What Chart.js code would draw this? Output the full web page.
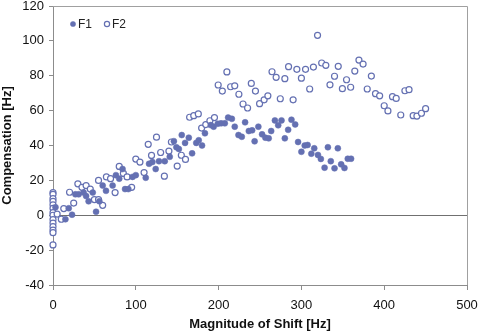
<!DOCTYPE html>
<html>
<head>
<meta charset="utf-8">
<script src="https://cdn.jsdelivr.net/npm/chart.js@4.4.1/dist/chart.umd.min.js"></script>
<style>
    html, body { margin: 0; padding: 0; background: #ffffff; }
    #chart { display: block; }
</style>
</head>
<body>
<canvas id="chart" width="480" height="334"></canvas>
<script>
const f1Shift = [3, 15, 19, 23, 27, 31, 37, 40, 43, 48, 52, 56, 60, 64, 72, 76, 80, 84, 87, 91,
    96, 100, 112, 116, 120, 124, 128, 135, 141, 146, 149, 152, 155.5, 159.5, 164, 168, 173, 176, 180, 183.5,
    190.5, 194, 199, 203, 207.5, 211.5, 216, 219.5, 224, 228, 232, 236.5, 240.5, 243.5, 248, 252.5, 256.5, 260.5, 263.5, 268,
    272, 276, 280, 284, 288, 292.5, 296, 300, 304, 307.5, 312, 315.5, 320, 323.5, 328, 332, 335.5, 340, 344, 348,
    352, 356, 360];
const f1Comp = [4.6, -2.3, 4, 0.3, 12, 12, 13, 11, 8, 13, 2, 8, 17, 14, 17, 23, 21, 26.5, 15, 15,
    22, 23, 21.5, 29.5, 30.5, 26.5, 31, 31, 33.5, 42.5, 39, 38, 46, 41.5, 44.5, 35.5, 41.5, 43, 40, 47,
    51.7, 50.8, 52.5, 52.7, 52.7, 56, 55.3, 50.8, 46, 45, 53.3, 48.3, 48.7, 42.4, 50.8, 46.4, 44.5, 44.1, 48.3, 54.4,
    51.6, 54.4, 44.1, 49, 54.8, 52.1, 42, 36.4, 40, 40.3, 35.3, 38.4, 34.6, 32.3, 27.3, 39, 31, 26.9, 38.4, 29.2,
    27.1, 32.4, 32.4];

const f2Shift = [0, 0, 0, 0, 0, 0, 0, 0, 0, 0, 0, 0, 0, 0,
    5, 10, 13, 20, 25, 30, 35, 40, 45, 50, 55, 60, 55, 64.5, 69.5, 75, 80, 85, 89.5, 95,
    100, 105, 110, 115, 119, 125, 130, 134.5, 140, 143, 150, 155, 160, 165, 170, 175.5, 179.5, 184.5, 189.5, 195,
    199.5, 204.5, 210, 214.5, 219.5, 224.5, 229.5, 235, 239.5, 244.5, 249.5, 255, 259.5, 264.5, 269.5, 274.5, 280, 284.5, 290, 294.5,
    300, 305, 310, 314.5, 319.5, 324.5, 329.5, 334.5, 340, 344.5, 349.5, 354.5, 359.5, 364.5, 369.5, 374.5, 379.5, 384.5, 389.5, 394.5,
    400, 404.5, 410, 414.5, 420, 425, 430, 435, 439.5, 445, 450];
const f2Comp = [13, 12, 9.5, 8, 6, 4, 1.5, 0, -2.5, -4.5, -6.5, -8.5, -10, -17,
    0.7, -2.3, 3.8, 13.2, 7, 18, 16, 17, 15, 9, 9, 5.7, 20, 22, 21, 13, 28, 24, 22, 16,
    32.2, 30.5, 24.5, 40.7, 34.3, 44.8, 36, 22.4, 36.8, 42, 28.2, 34.4, 32, 56.2, 57.1, 58.1, 50, 52, 54.2, 56,
    74.7, 71.2, 82.2, 73.7, 74.2, 69.4, 63.8, 61.5, 75.6, 71.2, 64, 66.2, 68.5, 82.3, 79.1, 66.8, 78.3, 85.2, 66.2, 83.7,
    78.6, 83.7, 72.4, 85, 103.2, 87.3, 86, 74.8, 79.7, 85.4, 72.6, 77.7, 73.4, 82.7, 89, 86.7, 72.4, 79.8, 69.7, 68.5,
    62.8, 59.8, 68, 67, 57.5, 71.4, 72, 57.1, 56.9, 58.5, 61.1];

const markColor = '#6470b2';
const axisColor = '#8c8c8c';
const fontFamily = 'Liberation Sans, Arial, sans-serif';

function toPoints(xs, ys) {
    return xs.map((x, i) => ({ x: x, y: ys[i] }));
}

// grey frame on top and right of the plot area
const framePlugin = {
    id: 'frame',
    beforeDatasetsDraw(chart) {
        const a = chart.chartArea;
        const ctx = chart.ctx;
        ctx.save();
        ctx.strokeStyle = '#a0a0a0';
        ctx.lineWidth = 1;
        ctx.beginPath();
        ctx.moveTo(a.left, a.top + 0.5);
        ctx.lineTo(a.right + 0.5, a.top + 0.5);
        ctx.lineTo(a.right + 0.5, a.bottom);
        ctx.stroke();
        ctx.restore();
    }
};

// small legend in one row, top left inside the plot
const legendPlugin = {
    id: 'innerLegend',
    afterDatasetsDraw(chart) {
        const a = chart.chartArea;
        const ctx = chart.ctx;
        let x = a.left + 20;
        const y = a.top + 18;
        ctx.save();
        ctx.font = '12px ' + fontFamily;
        ctx.textBaseline = 'middle';
        chart.data.datasets.forEach(ds => {
            ctx.beginPath();
            ctx.arc(x, y, 2.6, 0, Math.PI * 2);
            ctx.fillStyle = ds.pointBackgroundColor;
            ctx.fill();
            ctx.lineWidth = ds.pointBorderWidth;
            ctx.strokeStyle = ds.pointBorderColor;
            ctx.stroke();
            ctx.fillStyle = '#222222';
            ctx.fillText(ds.label, x + 5, y + 0.5);
            x += 34;
        });
        ctx.restore();
    }
};

const ctx = document.getElementById('chart').getContext('2d');

new Chart(ctx, {
    type: 'scatter',
    data: {
        datasets: [{
            label: 'F1',
            data: toPoints(f1Shift, f1Comp),
            clip: false,
            pointStyle: 'circle',
            pointRadius: 3,
            pointBackgroundColor: markColor,
            pointBorderColor: markColor,
            pointBorderWidth: 0.5,
            backgroundColor: markColor,
            borderColor: markColor
        }, {
            label: 'F2',
            data: toPoints(f2Shift, f2Comp),
            clip: false,
            pointStyle: 'circle',
            pointRadius: 3,
            pointBackgroundColor: '#ffffff',
            pointBorderColor: markColor,
            pointBorderWidth: 1.2,
            backgroundColor: '#ffffff',
            borderColor: markColor
        }]
    },
    options: {
        responsive: false,
        animation: false,
        devicePixelRatio: 1,
        layout: {
            padding: { left: 0, right: 13, top: 6, bottom: 0 }
        },
        plugins: {
            legend: { display: false },
            tooltip: { enabled: false }
        },
        scales: {
            x: {
                type: 'linear',
                min: 0,
                max: 500,
                afterFit: s => {
                    s.height = 49;
                    s.paddingLeft = 0;
                    s.paddingRight = 0;
                },
                ticks: {
                    stepSize: 100,
                    padding: 8,
                    color: '#111111',
                    font: { family: fontFamily, size: 13 }
                },
                grid: {
                    drawOnChartArea: false,
                    drawTicks: true,
                    tickLength: 5,
                    tickColor: axisColor
                },
                border: { display: true, color: axisColor, width: 1 },
                title: {
                    display: true,
                    text: 'Magnitude of Shift [Hz]',
                    color: '#111111',
                    padding: { top: 0, bottom: 2 },
                    font: { family: fontFamily, size: 13, weight: 'bold' }
                }
            },
            y: {
                type: 'linear',
                min: -40,
                max: 120,
                afterFit: s => {
                    s.width = 53;
                    s.paddingTop = 0;
                    s.paddingBottom = 0;
                },
                ticks: {
                    stepSize: 20,
                    padding: 5,
                    color: '#111111',
                    font: { family: fontFamily, size: 13 }
                },
                grid: {
                    drawOnChartArea: true,
                    drawTicks: true,
                    tickLength: 4,
                    tickColor: axisColor,
                    color: c => (c.tick && c.tick.value === 0) ? '#707070' : 'rgba(0,0,0,0)'
                },
                border: { display: true, color: axisColor, width: 1 },
                title: {
                    display: true,
                    text: 'Compensation [Hz]',
                    color: '#111111',
                    padding: { top: 0, bottom: 0 },
                    font: { family: fontFamily, size: 13, weight: 'bold' }
                }
            }
        }
    },
    plugins: [framePlugin, legendPlugin]
});
</script>
</body>
</html>
